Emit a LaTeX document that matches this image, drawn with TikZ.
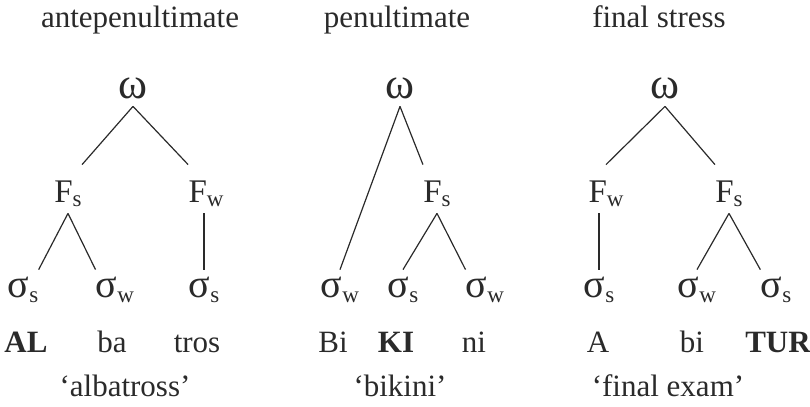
\documentclass[tikz,border=0pt]{standalone}
\usepackage{fontspec}
\setmainfont{Liberation Serif}
\usepackage{tikz}
\definecolor{inkgray}{HTML}{2A2A2A}
\newcommand{\cat}[2]{#1\raisebox{-0.3ex}{\fontsize{11.5}{12}\selectfont #2}}

\begin{document}
\begin{tikzpicture}[x=0.5pt,y=-0.5pt,
  every node/.style={inner sep=0pt,text=inkgray},
  txt/.style={font=\fontsize{15.5}{18}\selectfont,anchor=base},
  root/.style={font=\fontsize{22}{24}\selectfont,anchor=base,text depth=4pt},
  ft/.style={font=\fontsize{16.5}{18}\selectfont,anchor=base,text height=18.5pt,text depth=5.5pt},
  syl/.style={font=\fontsize{20}{24}\selectfont,anchor=base,text height=13.5pt},
  branch/.style={draw=inkgray,line width=0.6pt}]
 \useasboundingbox (0,0) rectangle (810,407);
 % headings
 \node[txt] (h1) at (140,27) {antepenultimate};
 \node[txt] (h2) at (397,27) {penultimate};
 \node[txt] (h3) at (659,27) {final stress};
 % antepenultimate
 \node[root] (om1) at (133,98) {ω};
 \node[ft] (fs1) at (68,202) {\cat{F}{s}};
 \node[ft] (fw1) at (206,202) {\cat{F}{w}};
 \node[syl] (sa1) at (23,297) {\cat{σ}{s}};
 \node[syl] (sb1) at (115,297) {\cat{σ}{w}};
 \node[syl] (sc1) at (204,297) {\cat{σ}{s}};
 \draw[branch] (om1.south) -- (fs1.north east);
 \draw[branch] (om1.south) -- (fw1.north west);
 \draw[branch] (fs1.south) -- (sa1.north east);
 \draw[branch] (fs1.south) -- (sb1.north west);
 \draw[branch] (sc1.north |- fw1.south) -- (sc1.north);
 % penultimate
 \node[root] (om2) at (400,98) {ω};
 \node[ft] (fs2) at (437,202) {\cat{F}{s}};
 \node[syl] (sa2) at (340,297) {\cat{σ}{w}};
 \node[syl] (sb2) at (403,297) {\cat{σ}{s}};
 \node[syl] (sc2) at (485,297) {\cat{σ}{w}};
 \draw[branch] (om2.south) -- (sa2.north);
 \draw[branch] (om2.south) -- (fs2.north west);
 \draw[branch] (fs2.south) -- (sb2.north);
 \draw[branch] (fs2.south) -- (sc2.north west);
 % final stress
 \node[root] (om3) at (665,98) {ω};
 \node[ft] (fw3) at (606,202) {\cat{F}{w}};
 \node[ft] (fs3) at (729,202) {\cat{F}{s}};
 \node[syl] (sa3) at (599,297) {\cat{σ}{s}};
 \node[syl] (sb3) at (697,297) {\cat{σ}{w}};
 \node[syl] (sc3) at (776,297) {\cat{σ}{s}};
 \draw[branch] (om3.south) -- (fw3.north);
 \draw[branch] (om3.south) -- (fs3.north west);
 \draw[branch] (sa3.north |- fw3.south) -- (sa3.north);
 \draw[branch] (fs3.south) -- (sb3.north);
 \draw[branch] (fs3.south) -- (sc3.north west);
 % syllables
 \node[txt] (w1) at (26,352) {\bfseries AL};
 \node[txt] (w2) at (112,352) {ba};
 \node[txt] (w3) at (197,352) {tros};
 \node[txt] (w4) at (333,352) {Bi};
 \node[txt] (w5) at (396,352) {\bfseries KI};
 \node[txt] (w6) at (474,352) {ni};
 \node[txt] (w7) at (598,352) {A};
 \node[txt] (w8) at (692,352) {bi};
 \node[txt] (w9) at (778,352) {\bfseries TUR};
 % glosses
 \node[txt] (g1) at (125,396) {‘albatross’};
 \node[txt] (g2) at (400,396) {‘bikini’};
 \node[txt] (g3) at (668,396) {‘final exam’};
\end{tikzpicture}
\end{document}
